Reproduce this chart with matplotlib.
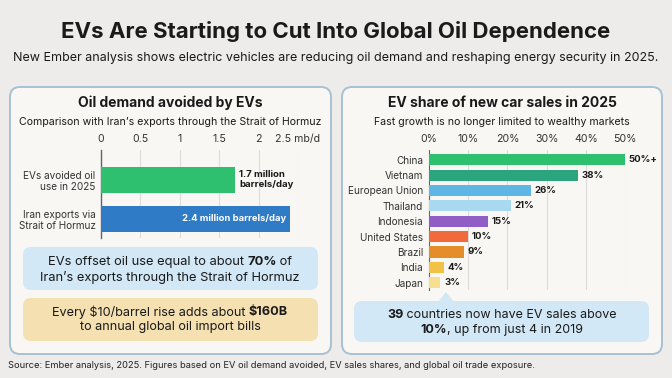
import matplotlib.pyplot as plt
from matplotlib.patches import FancyBboxPatch, Polygon

plt.rcParams['font.family'] = ['Inter', 'DejaVu Sans']

# data
oil_labels = ['EVs avoided oil\nuse in 2025', 'Iran exports via\nStrait of Hormuz']
oil_values = [1.7, 2.4]
oil_ticks = [0, 0.5, 1, 1.5, 2, 2.5]
oil_tick_labels = ['0', '0.5', '1', '1.5', '2', '2.5 mb/d']

countries = ['China', 'Vietnam', 'European Union', 'Thailand', 'Indonesia',
             'United States', 'Brazil', 'India', 'Japan']
ev_share = [50, 38, 26, 21, 15, 10, 9, 4, 3]
ev_share_labels = ['50%+', '38%', '26%', '21%', '15%', '10%', '9%', '4%', '3%']
share_ticks = [0, 10, 20, 30, 40, 50]

W, H = 672, 378
fig = plt.figure(figsize=(W / 100, H / 100), dpi=100)
fig.patch.set_facecolor('#edecea')

# background axes in pixel units (y from top)
bg = fig.add_axes([0, 0, 1, 1])
bg.set_xlim(0, W)
bg.set_ylim(H, 0)
bg.axis('off')

DARK = '#1a1a1a'


def rbox(x0, y0, x1, y1, fc, ec='none', lw=0, r=8):
    p = FancyBboxPatch((x0, y0), x1 - x0, y1 - y0,
                       boxstyle=f"round,pad=0,rounding_size={r}",
                       fc=fc, ec=ec, lw=lw, zorder=1)
    bg.add_patch(p)


def rich_line(xc, y, parts, size, color=DARK):
    r = fig.canvas.get_renderer()
    texts = []
    for s, w in parts:
        t = bg.text(0, y, s, fontsize=size, fontweight=w, ha='left',
                    va='center', color=color, zorder=5)
        texts.append(t)
    widths = [t.get_window_extent(r).width for t in texts]
    x = xc - sum(widths) / 2
    for t, w in zip(texts, widths):
        t.set_x(x)
        x += w


# header
bg.text(W / 2, 32, 'EVs Are Starting to Cut Into Global Oil Dependence',
        ha='center', va='center', fontsize=16, fontweight='bold', color=DARK)
bg.text(W / 2, 58, 'New Ember analysis shows electric vehicles are reducing oil demand '
        'and reshaping energy security in 2025.',
        ha='center', va='center', fontsize=9.0, color=DARK)

# panels
rbox(10, 87, 331, 354, '#f8f7f4', ec='#a7c1d4', lw=1.4, r=10)
rbox(342, 87, 662, 354, '#f8f7f4', ec='#a7c1d4', lw=1.4, r=10)

# left panel texts
bg.text(170, 103, 'Oil demand avoided by EVs', ha='center', va='center',
        fontsize=10, fontweight='bold', color=DARK)
bg.text(170, 122, 'Comparison with Iran\u2019s exports through the Strait of Hormuz',
        ha='center', va='center', fontsize=7.6, color=DARK)

# left chart
axL = fig.add_axes([101 / W, 1 - 238 / H, 197 / W, 88 / H])
axL.set_facecolor('none')
axL.barh([0, 1], oil_values, height=0.66, color=['#2ebf6f', '#2f7bc6'], zorder=3)
axL.set_xlim(0, 2.5)
axL.set_ylim(1.49, -0.76)
axL.xaxis.tick_top()
axL.set_xticks(oil_ticks)
axL.set_xticklabels(oil_tick_labels, fontsize=7.6, color='#333333')
axL.set_yticks([0, 1])
axL.set_yticklabels(oil_labels, fontsize=7.2, color='#333333', linespacing=1.15)
axL.tick_params(length=0, pad=4)
axL.grid(axis='x', color='#dcdcdc', lw=0.8, zorder=0)
for s in ['top', 'right', 'bottom']:
    axL.spines[s].set_visible(False)
axL.spines['left'].set_color('#666666')
axL.spines['left'].set_linewidth(1)
axL.text(oil_values[0] + 0.05, 0, '1.7 million\nbarrels/day', ha='left', va='center',
         fontsize=6.9, fontweight='bold', color=DARK, linespacing=1.15)
axL.text(oil_values[1] - 0.05, 1, '2.4 million barrels/day', ha='right', va='center',
         fontsize=6.8, fontweight='bold', color='white', zorder=4)

# left callouts
rbox(23, 247, 318, 290, '#d2e8f6', r=8)
rich_line(170, 262, [('EVs offset oil use equal to about ', 'normal'),
                     ('70%', 'bold'), (' of', 'normal')], 9.3)
rich_line(170, 277, [('Iran\u2019s exports through the Strait of Hormuz', 'normal')], 9.3)
rbox(23, 298, 318, 341, '#f4e0b1', r=8)
rich_line(170, 312, [('Every $10/barrel rise adds about ', 'normal'),
                     ('$160B', 'bold')], 9.1)
rich_line(170, 327, [('to annual global oil import bills', 'normal')], 9.1)

# right panel texts
bg.text(502, 103, 'EV share of new car sales in 2025', ha='center', va='center',
        fontsize=10, fontweight='bold', color=DARK)
bg.text(502, 122, 'Fast growth is no longer limited to wealthy markets',
        ha='center', va='center', fontsize=7.6, color=DARK)

bar_colors = ['#2ebf6f', '#2aa57e', '#5db6e4', '#a9d9f1', '#8f5fc6',
              '#f26a3b', '#e48e2b', '#f2c246', '#f6e08f']
axR = fig.add_axes([428.7 / W, 1 - 290 / H, 196.6 / W, 140 / H])
axR.set_facecolor('none')
ypos = list(range(len(countries)))
axR.barh(ypos, ev_share, height=0.72, color=bar_colors, zorder=3)
axR.set_xlim(0, 50)
axR.set_ylim(8.47, -0.63)
axR.xaxis.tick_top()
axR.set_xticks(share_ticks)
axR.set_xticklabels([f'{t}%' for t in share_ticks], fontsize=7.6, color='#333333')
axR.set_yticks(ypos)
axR.set_yticklabels(countries, fontsize=7.2, color='#333333')
axR.tick_params(length=0, pad=4)
axR.grid(axis='x', color='#dcdcdc', lw=0.8, zorder=0)
for s in ['top', 'right', 'bottom']:
    axR.spines[s].set_visible(False)
axR.spines['left'].set_color('#666666')
for y, v, lab in zip(ypos, ev_share, ev_share_labels):
    axR.text(v + 0.9, y, lab, ha='left', va='center', fontsize=6.9,
             fontweight='bold', color=DARK, clip_on=False)

# right callout
rbox(354, 301, 649, 342, '#d2e8f6', r=8)
bg.add_patch(Polygon([[438, 302], [454, 302], [446, 292]], closed=True,
                     fc='#d2e8f6', ec='none', zorder=1))
rich_line(502, 315, [('39', 'bold'), (' countries now have EV sales above', 'normal')], 9.0)
rich_line(502, 330, [('10%', 'bold'), (', up from just 4 in 2019', 'normal')], 9.0)

# source
bg.text(8, 366, 'Source: Ember analysis, 2025. Figures based on EV oil demand avoided, '
        'EV sales shares, and global oil trade exposure.',
        ha='left', va='center', fontsize=6.7, color='#222222')

fig.savefig('out.png', dpi=100)
